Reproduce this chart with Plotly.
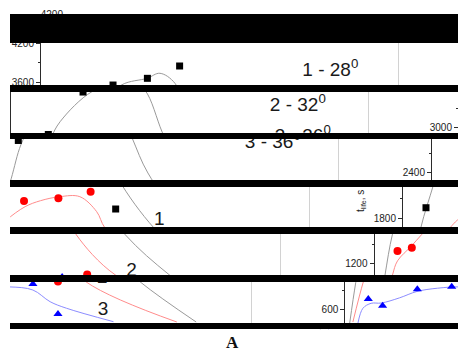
import plotly.graph_objects as go

# ---------------- data ----------------
# measurement points (same abscissa for the three series, arbitrary x units)
X_POINTS = [6.7, 10.7, 20.4, 30.0, 39.0, 46.0]
T_LIFE_28 = [1961, 2895, 3553, 3657, 3848, 1941]   # series 1 (black squares)
T_LIFE_32 = [1398, 1450, 2065, 2107, 2209, 1034]   # series 2 (red circles)
T_LIFE_36 = [763, 659, 913, 954, 995, 530]         # series 3 (blue triangles)

# fitted curves
FIT_28_X = [1.5, 3.2, 5.3, 8.7, 11.4, 14.0, 22.8, 29.9, 33.5, 37.7, 42.5, 46.9, 56.7, 69.0, 84.6]
FIT_28_Y = [386, 1020, 1660, 2300, 2825, 3093, 3555, 3657, 3735, 3580, 2933, 2391, 1647, 1026, 406]
FIT_32_X = [2.4, 5.3, 6.7, 10.6, 13.4, 15.5, 20.7, 25.0, 30.4, 36.0, 40.7, 43.0, 53.9, 79.2]
FIT_32_Y = [406, 1026, 1245, 1476, 1650, 1771, 1977, 2070, 2132, 2132, 1899, 1647, 1026, 406]
FIT_36_X = [3.8, 5.2, 7.5, 10.3, 15.4, 20.3, 26.0, 32.6, 39.0, 43.8, 48.4, 61.5]
FIT_36_Y = [386, 619, 696, 700, 780, 880, 930, 950, 902, 721, 619, 411]

LEGEND_TEXT = ["1 - 28<sup>0</sup>", "2 - 32<sup>0</sup>", "3 - 36<sup>0</sup>"]
LEGEND_X = [81.1, 80.4, 81.8]
LEGEND_Y = [3760, 3332, 2848]
CURVE_LABELS = ["1", "2", "3"]
CURVE_LABEL_X = [58.2, 58.4, 58.6]
CURVE_LABEL_Y = [1773, 1081, 592]

Y_DTICK = 600
X_FRAME = 100            # right frame of the plot
Y_TITLE = "t<sub>life</sub>, s"
CAPTION = "A"

# ---------------- geometry of the (sliced / shifted) picture ----------------
W, H = 458, 349
LEFT = 10                     # picture content starts here
PX_PER_X = 3.58
PERIOD = 451 / PX_PER_X       # horizontal wrap period, in x units
ROW_3000 = 91.7               # content row of the 3000 tick
PX_PER_600 = 38.7


def val(row):
    return 3000 - (row - ROW_3000) * 600 / PX_PER_600


# top, bottom (screen rows), row offset, screen x of y axis
STRIPS = [
    (0, 14, 0, 69),
    (43, 85, 29, 40),
    (92, 133, 36, 10),
    (139, 180, 42, 431),
    (187, 227, 49, 402),
    (234, 275, 56, 373.5),
    (282, 323, 63, 344.3),
    (329, 349, 69, 315),
]
BARS = [(14, 43), (85, 92), (133, 139), (180, 187), (227, 234), (275, 282), (323, 329)]

AX = "#2b2b2b"
FONT = "Liberation Sans, Arial, sans-serif"
GRAY, PINK, LBLUE = "#9a9a9a", "#ff8c8c", "#8c8cff"

fig = go.Figure()
layout = dict(width=W, height=H, margin=dict(l=0, r=0, t=0, b=0, pad=0), autosize=False,
              paper_bgcolor="white", plot_bgcolor="rgba(0,0,0,0)", showlegend=False)

SHIFTS = (-PERIOD, 0.0, PERIOD)

for i, (top, bot, off, axx) in enumerate(STRIPS):
    n = i + 1
    xa, ya = ("x", "y") if n == 1 else (f"x{n}", f"y{n}")
    xkey, ykey = ("xaxis", "yaxis") if n == 1 else (f"xaxis{n}", f"yaxis{n}")
    t_ext = max(0, top - 1)
    b_ext = min(H, bot + (3 if i == 0 else 1))
    y_lo, y_hi = val(b_ext - off), val(t_ext - off)
    x_lo, x_hi = (LEFT - axx) / PX_PER_X, (W - axx) / PX_PER_X
    grid = 1 <= i <= 6
    layout[xkey] = dict(domain=[LEFT / W, 1], range=[x_lo, x_hi], anchor=ya,
                        automargin=False,
                        showline=False, zeroline=False, ticks="", showticklabels=False,
                        showgrid=grid, tickmode="array",
                        tickvals=[X_FRAME + s for s in SHIFTS],
                        gridcolor="#d2d2d2", gridwidth=1)
    yax = dict(domain=[1 - b_ext / H, 1 - t_ext / H], range=[y_lo, y_hi],
               anchor="free", position=axx / W, automargin=False,
               showgrid=False, zeroline=False,
               showline=i not in (0, 7), linecolor=AX, linewidth=1,
               ticks="outside", ticklen=4, tickwidth=1, tickcolor=AX,
               tick0=0, dtick=Y_DTICK,
               minor=dict(ticks="outside", ticklen=2, dtick=Y_DTICK / 2, tickcolor=AX),
               tickfont=dict(size=10, color="#222", family=FONT),
               showticklabels=True)
    if i == 2:
        yax.update(ticks="", showticklabels=False, minor=dict(ticks=""))
    if i == 7:
        yax.update(ticks="", showticklabels=False, minor=dict(ticks=""))
    layout[ykey] = yax

    # fitted curves
    for s in SHIFTS:
        for fx, fy, col in ((FIT_28_X, FIT_28_Y, GRAY), (FIT_32_X, FIT_32_Y, PINK),
                            (FIT_36_X, FIT_36_Y, LBLUE)):
            fig.add_trace(go.Scatter(x=[v + s for v in fx], y=fy, mode="lines",
                                     line=dict(shape="spline", smoothing=1, color=col, width=1),
                                     xaxis=xa, yaxis=ya, hoverinfo="skip"))
    xs = [v + s for s in SHIFTS for v in X_POINTS]
    sq_axis = ya
    if i == 2:
        # wrapped tick labels of this strip sit at the right edge
        sq_axis = "y9"
        layout["yaxis9"] = dict(overlaying="y3", range=[y_lo, y_hi], anchor="free",
                                position=1.0, automargin=False,
                                showgrid=False, zeroline=False, showline=False,
                                ticks="outside", ticklen=4, tickwidth=1, tickcolor=AX,
                                tick0=0, dtick=Y_DTICK,
                                minor=dict(ticks="outside", ticklen=2, dtick=Y_DTICK / 2,
                                           tickcolor=AX),
                                tickfont=dict(size=10, color="#222", family=FONT))
    for ys, sym, col, size, yy in ((T_LIFE_28, "square", "#000000", 7, sq_axis),
                                   (T_LIFE_32, "circle", "#ff0000", 8, ya),
                                   (T_LIFE_36, "triangle-up", "#0000ff", 8, ya)):
        fig.add_trace(go.Scatter(x=xs, y=ys * 3, mode="markers",
                                 marker=dict(symbol=sym, color=col, size=size, line=dict(width=0)),
                                 xaxis=xa, yaxis=yy, hoverinfo="skip"))
    tx = [v + s for s in SHIFTS for v in LEGEND_X + CURVE_LABEL_X]
    ty = (LEGEND_Y + CURVE_LABEL_Y) * 3
    tt = (LEGEND_TEXT + CURVE_LABELS) * 3
    fig.add_trace(go.Scatter(x=tx, y=ty, text=tt, mode="text", textposition="middle center",
                             textfont=dict(size=19, color="#1a1a1a", family=FONT),
                             xaxis=xa, yaxis=ya, hoverinfo="skip"))

shapes = []
for t, b in BARS:
    shapes.append(dict(type="rect", xref="paper", yref="paper", x0=LEFT / W, x1=1,
                       y0=1 - b / H, y1=1 - t / H, fillcolor="black",
                       line=dict(width=0), layer="above"))
layout["shapes"] = shapes
layout["annotations"] = [
    dict(text=Y_TITLE, x=361 / W, y=1 - 201 / H, xref="paper", yref="paper",
         textangle=-90, showarrow=False, font=dict(size=10, color="#222", family=FONT),
         xanchor="center", yanchor="middle"),
    dict(text=f"<b>{CAPTION}</b>", x=232.5 / W, y=1 - 342 / H, xref="paper", yref="paper",
         showarrow=False, font=dict(size=17, color="#111", family="Liberation Serif, serif"),
         xanchor="center", yanchor="middle"),
]
fig.update_layout(**layout)
fig.write_html("out.html", config={"displayModeBar": False},
               post_script="document.body.style.margin='0';document.body.style.overflow='hidden';")
